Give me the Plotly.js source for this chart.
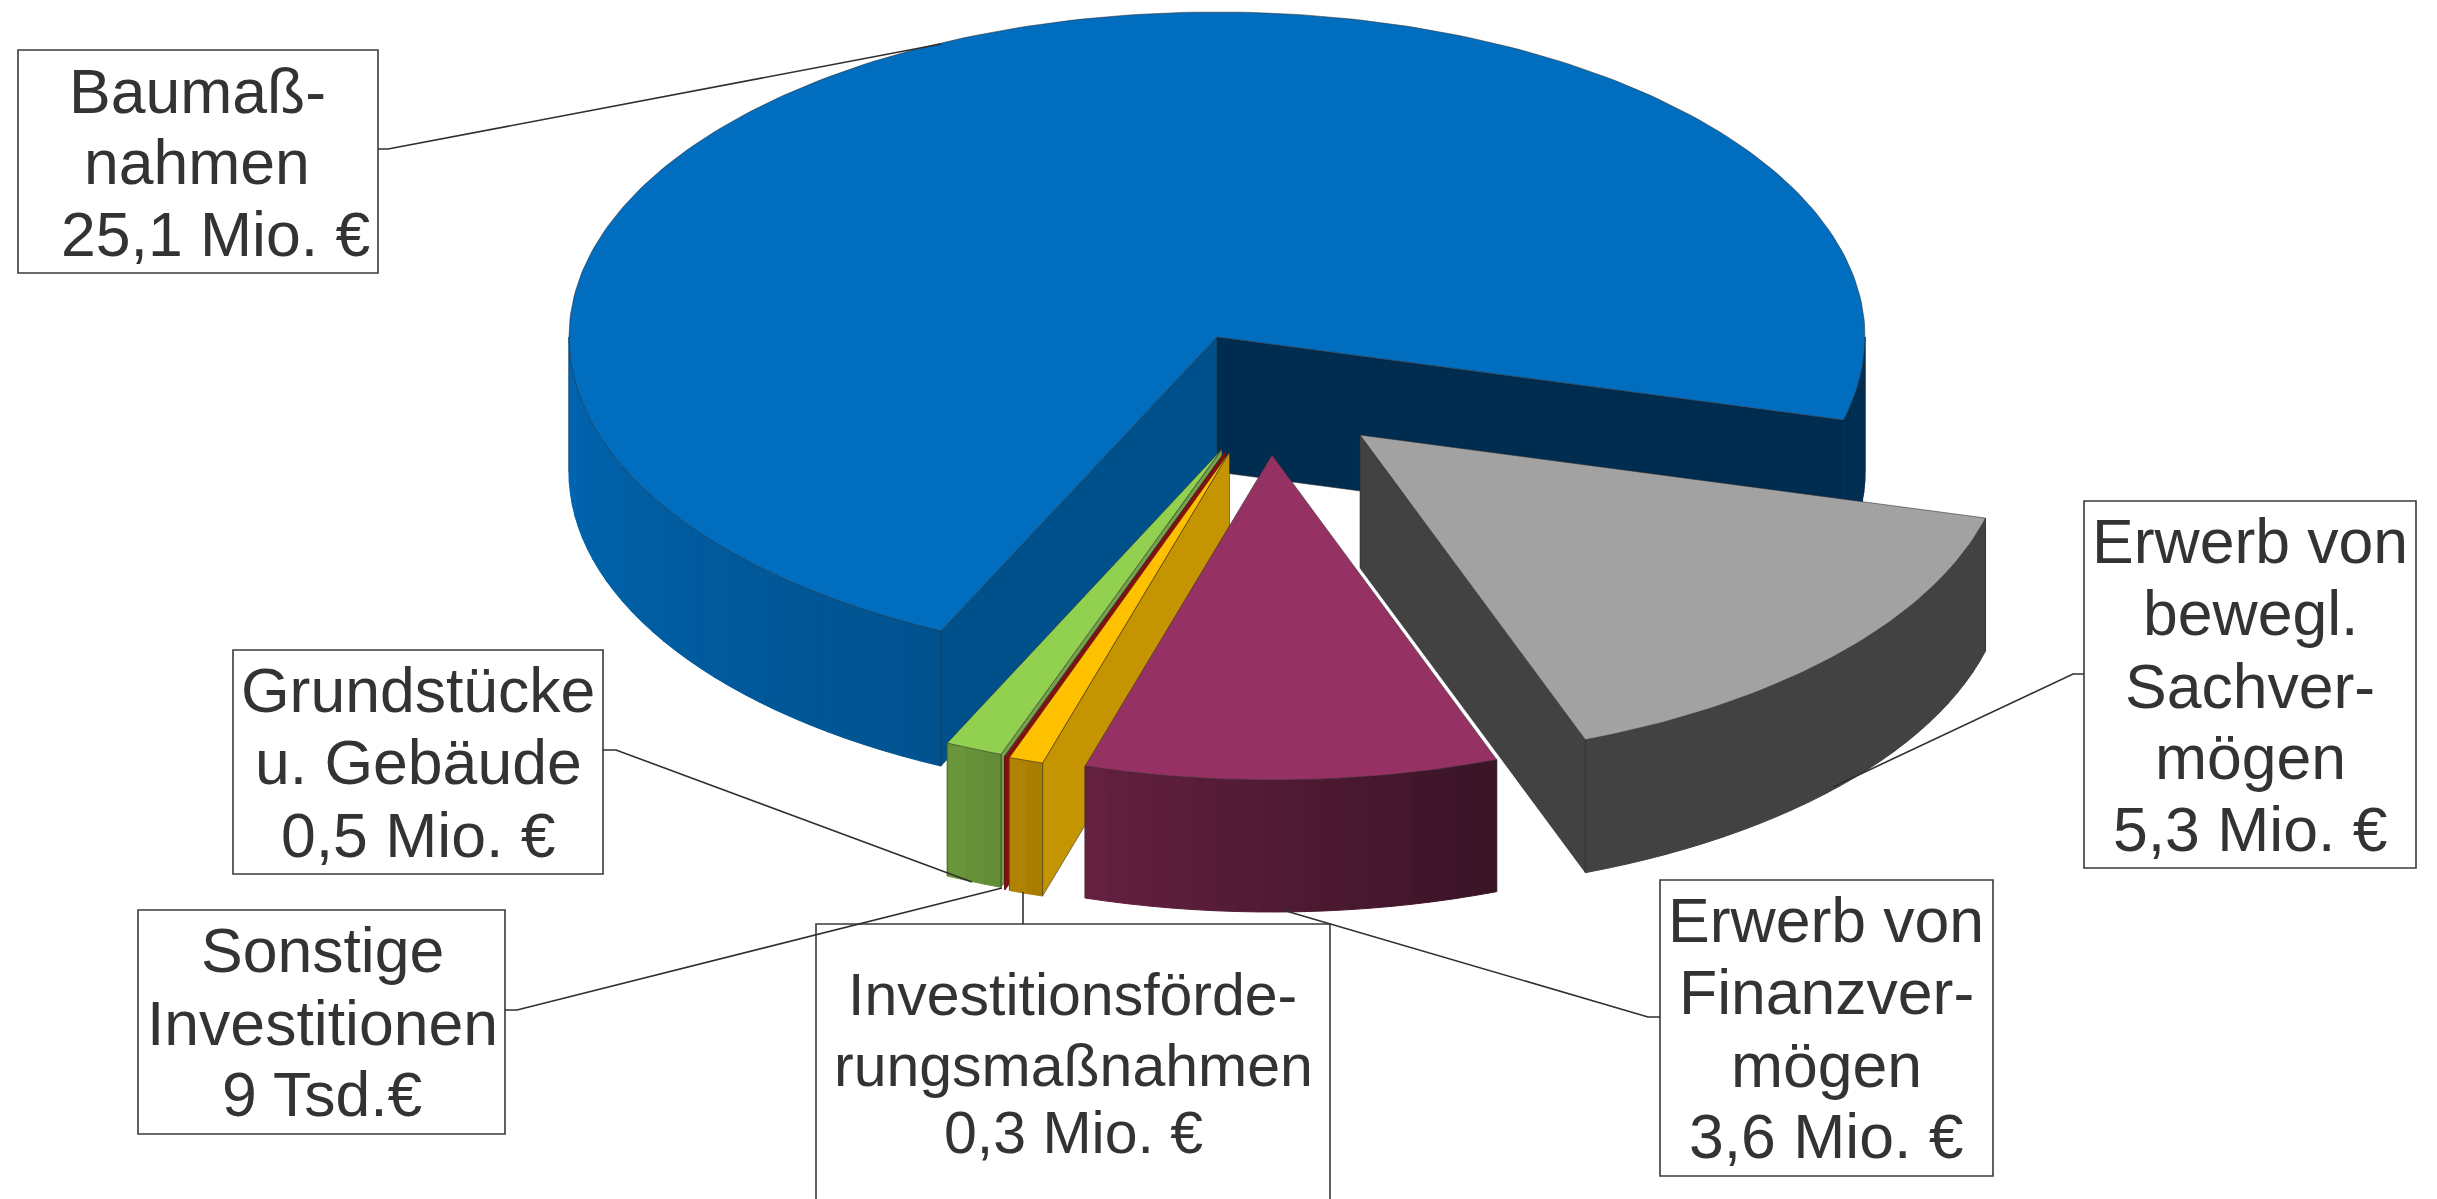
<!DOCTYPE html>
<html>
<head>
<meta charset="utf-8">
<script src="https://cdn.plot.ly/plotly-3.0.1.min.js"></script>
<style>html,body{margin:0;padding:0;background:#fff}#chart{width:2437px;height:1199px}</style>
</head>
<body>
<div id="chart"></div>
<script>
// Data, clockwise from the blue slice's end (values in Mio. EUR)
const categories = ["Erwerb von bewegl. Sachvermögen", "Erwerb von Finanzvermögen", "Investitionsförderungsmaßnahmen", "Sonstige Investitionen", "Grundstücke u. Gebäude", "Baumaßnahmen"];
const values = [5.3, 3.6, 0.3, 0.009, 0.5, 25.1];
const labelLines = [
  ["Erwerb von", "bewegl.", "Sachver-", "mögen", "5,3 Mio. €"],
  ["Erwerb von", "Finanzver-", "mögen", "3,6 Mio. €"],
  ["Investitionsförde-", "rungsmaßnahmen", "0,3 Mio. €"],
  ["Sonstige", "Investitionen", "9 Tsd.€"],
  ["Grundstücke", "u. Gebäude", "0,5 Mio. €"],
  ["Baumaß-", "nahmen", "25,1 Mio. €"]
];

// Geometry of the projected pie
const CX = 1217, CY = 337, RY = 325, START = 104.8;
const radiusX = [647, 645, 645, 645, 645, 648];
const depth = [133, 132, 133, 133, 133, 135];
const explode = [[143, 98], [55, 118], [12.5, 115], [8.5, 114], [5, 112], [0, 0]];
const drawOrder = [5, 0, 4, 3, 2, 1];

// Styles
const topColors = ["#a2a2a2", "#953163", "#ffc000", "#c00000", "#92d050", "#006dbf"];
const faceColors = ["#424242", "#000000", "#c49500", "#8a0c0c", "#76a34a", "#00508c"];
const faceColorsEnd = ["#424242", "#000000", "#000000", "#000000", "#000000", "#002c4f"];
const wallStops = [
  [[90, "#424242"], [270, "#424242"]],
  [[160, "#3a1426"], [197, "#642040"]],
  [[197, "#a67c00"], [200, "#b38600"]],
  [[199, "#8a0c0c"], [201, "#8a0c0c"]],
  [[200, "#608a35"], [206, "#6d9a3c"]],
  [[90, "#002e52"], [105, "#002e52"], [205, "#00528e"], [270, "#0066b2"]]
];
const EDGE = "rgba(45,45,45,0.55)";

// Label layout
const labelSizes = [62.5, 62.5, 59, 62.5, 62.5, 62.5];
const boxes = [
  [2084, 501, 2416, 868], [1660, 880, 1993, 1176], [816, 924, 1330, 1215],
  [138, 910, 505, 1134], [233, 650, 603, 874], [18, 50, 378, 273]
];
const lineCenterX = [
  [2250, 2250, 2250, 2250, 2250], [1826, 1826, 1826, 1826], [1072, 1073, 1073],
  [322, 322, 322], [418, 418, 418], [197, 197, 215]
];
const lineCenterY = [
  [542, 614, 687, 758, 830], [921, 993, 1066, 1137], [996, 1067, 1134],
  [951, 1024, 1095], [691, 763, 836], [92, 163, 235]
];
const leaders = [
  {x: [2084, 2073, 1833], y: [674, 674, 787]},
  {x: [1660, 1648, 1286], y: [1017, 1017, 911]},
  {x: [1023, 1023], y: [924, 892]},
  {x: [505, 517, 1002], y: [1010, 1010, 888]},
  {x: [603, 616, 972], y: [750, 750, 882]},
  {x: [378, 388, 941], y: [149, 149, 44]}
];

const rad = d => d * Math.PI / 180;
const total = values.reduce((a, b) => a + b, 0);
let cursor = START;
const slices = values.map((v, i) => {
  const t1 = cursor, t2 = cursor + v / total * 360;
  cursor = t2;
  return {i, t1, t2, ax: CX + explode[i][0], ay: CY + explode[i][1]};
});
const rim = (s, t) => [s.ax + radiusX[s.i] * Math.sin(rad(t)), s.ay - RY * Math.cos(rad(t))];
const hex = c => [1, 3, 5].map(k => parseInt(c.substr(k, 2), 16));
function shade(stops, t) {
  const n = ((t - 90) % 360 + 360) % 360 + 90;
  let a = stops[0], b = stops[stops.length - 1];
  if (n <= a[0]) return a[1];
  if (n >= b[0]) return b[1];
  for (let k = 0; k < stops.length - 1; k++) {
    if (n >= stops[k][0] && n <= stops[k + 1][0]) {
      const f = (n - stops[k][0]) / (stops[k + 1][0] - stops[k][0]);
      const A = hex(stops[k][1]), B = hex(stops[k + 1][1]);
      return "rgb(" + A.map((v, j) => Math.round(v + (B[j] - v) * f)).join(",") + ")";
    }
  }
  return b[1];
}
function poly(pts, fill, line, width, name) {
  const x = pts.map(p => p[0]).concat(pts[0][0]);
  const y = pts.map(p => p[1]).concat(pts[0][1]);
  return {type: "scatter", mode: "lines", x, y, fill: "toself", fillcolor: fill,
    line: {color: line, width: width === undefined ? 1 : width}, hoverinfo: "skip", name: name, showlegend: false};
}

const traces = [];
drawOrder.forEach(i => {
  const s = slices[i];
  const name = categories[i];
  const D = depth[i];
  // cut faces facing the viewer
  const tA = ((s.t1 % 360) + 360) % 360, tB = ((s.t2 % 360) + 360) % 360;
  const face = (t, col) => {
    const p = rim(s, t);
    traces.push(poly([[s.ax, s.ay], p, [p[0], p[1] + D], [s.ax, s.ay + D]], col, EDGE, 1, name));
  };
  if (tB > 0 && tB < 180) face(s.t2, faceColorsEnd[i]);
  if (tA > 180 && tA < 360) face(s.t1, faceColors[i]);
  // outer wall, in shaded strips, only where it faces the viewer
  const step = 2;
  [[90, 270], [450, 630]].forEach(range => {
    const a = Math.max(s.t1, range[0]), b = Math.min(s.t2, range[1]);
    if (b <= a) return;
    const n = Math.max(1, Math.ceil((b - a) / step));
    for (let k = 0; k < n; k++) {
      const u = a + (b - a) * k / n, w = a + (b - a) * (k + 1) / n;
      const p = rim(s, u), q = rim(s, w);
      const col = shade(wallStops[i], (u + w) / 2);
      traces.push(poly([p, q, [q[0], q[1] + D], [p[0], p[1] + D]], col, col, 1, name));
    }
    const p = rim(s, a), q = rim(s, b);
    traces.push({type: "scatter", mode: "lines", x: [p[0], p[0]], y: [p[1], p[1] + D],
      line: {color: EDGE, width: 1}, hoverinfo: "skip", showlegend: false, name});
    traces.push({type: "scatter", mode: "lines", x: [q[0], q[0]], y: [q[1], q[1] + D],
      line: {color: EDGE, width: 1}, hoverinfo: "skip", showlegend: false, name});
  });
  // top face
  const pts = [[s.ax, s.ay]];
  const n = Math.max(2, Math.ceil((s.t2 - s.t1) / 1));
  for (let k = 0; k <= n; k++) pts.push(rim(s, s.t1 + (s.t2 - s.t1) * k / n));
  traces.push(poly(pts, topColors[i], EDGE, 1, name));
});

// leader lines
leaders.forEach((l, i) => traces.push({type: "scatter", mode: "lines", x: l.x, y: l.y,
  line: {color: "#2f2f2f", width: 1.6}, hoverinfo: "skip", showlegend: false, name: categories[i] + " label"}));

const shapes = boxes.map(b => ({type: "rect", layer: "below", xref: "x", yref: "y",
  x0: b[0], y0: b[1], x1: b[2], y1: b[3], fillcolor: "#ffffff", line: {color: "#3a3a3a", width: 1.6}}));

const annotations = [];
labelLines.forEach((lines, i) => lines.forEach((t, k) => annotations.push({
  xref: "x", yref: "y", x: lineCenterX[i][k], y: lineCenterY[i][k] - 1, text: t,
  showarrow: false, xanchor: "center", yanchor: "middle",
  font: {family: "Liberation Sans", size: labelSizes[i], color: "#333333"}
})));

Plotly.newPlot("chart", traces, {
  width: 2437, height: 1199, margin: {l: 0, r: 0, t: 0, b: 0},
  paper_bgcolor: "#ffffff", plot_bgcolor: "rgba(0,0,0,0)", showlegend: false,
  font: {family: "Liberation Sans"},
  xaxis: {range: [0, 2437], visible: false, fixedrange: true},
  yaxis: {range: [1199, 0], visible: false, fixedrange: true},
  shapes, annotations
}, {staticPlot: true, displayModeBar: false});
</script>
</body>
</html>
